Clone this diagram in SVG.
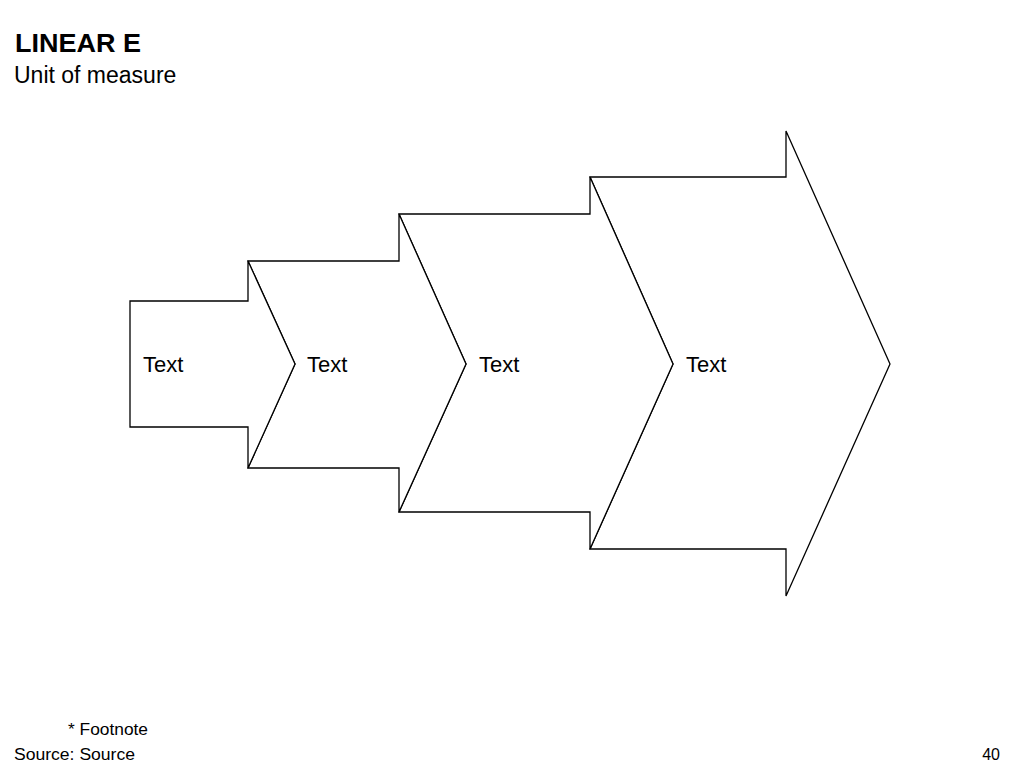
<svg xmlns="http://www.w3.org/2000/svg" width="1024" height="768" viewBox="0 0 1024 768">
<style>
.shape{fill:#fff;stroke:#000;stroke-width:1.3;stroke-linejoin:miter}
.t{font-family:"Liberation Sans",Arial,sans-serif;fill:#000}
.lbl{font-size:22px}
</style>
<rect width="1024" height="768" fill="#fff"/>
<text class="t" x="15" y="52" font-size="25" font-weight="bold" textLength="126" lengthAdjust="spacingAndGlyphs">LINEAR E</text>
<text class="t" x="14" y="83" font-size="23">Unit of measure</text>
<g id="node4">
<polygon class="shape" points="590,177 786,177 786,131 890,364 786,596 786,549 590,549 673,364"/>
<text class="t lbl" x="686" y="372">Text</text>
</g>
<g id="node3">
<polygon class="shape" points="399,214 590,214 590,177 673,364 590,549 590,512 399,512 466,364"/>
<text class="t lbl" x="479" y="372">Text</text>
</g>
<g id="node2">
<polygon class="shape" points="248,261 399,261 399,214 466,364 399,512 399,468 248,468 295,364"/>
<text class="t lbl" x="307" y="372">Text</text>
</g>
<g id="node1">
<polygon class="shape" points="130,301 248,301 248,261 295,364 248,468 248,427 130,427"/>
<text class="t lbl" x="143" y="372">Text</text>
</g>
<g id="connectors"></g>
<text class="t" x="68" y="735" font-size="16" textLength="80" lengthAdjust="spacingAndGlyphs">* Footnote</text>
<text class="t" x="14" y="760" font-size="16" textLength="121" lengthAdjust="spacingAndGlyphs">Source: Source</text>
<text class="t" x="1000" y="760" font-size="16" text-anchor="end">40</text>
</svg>
